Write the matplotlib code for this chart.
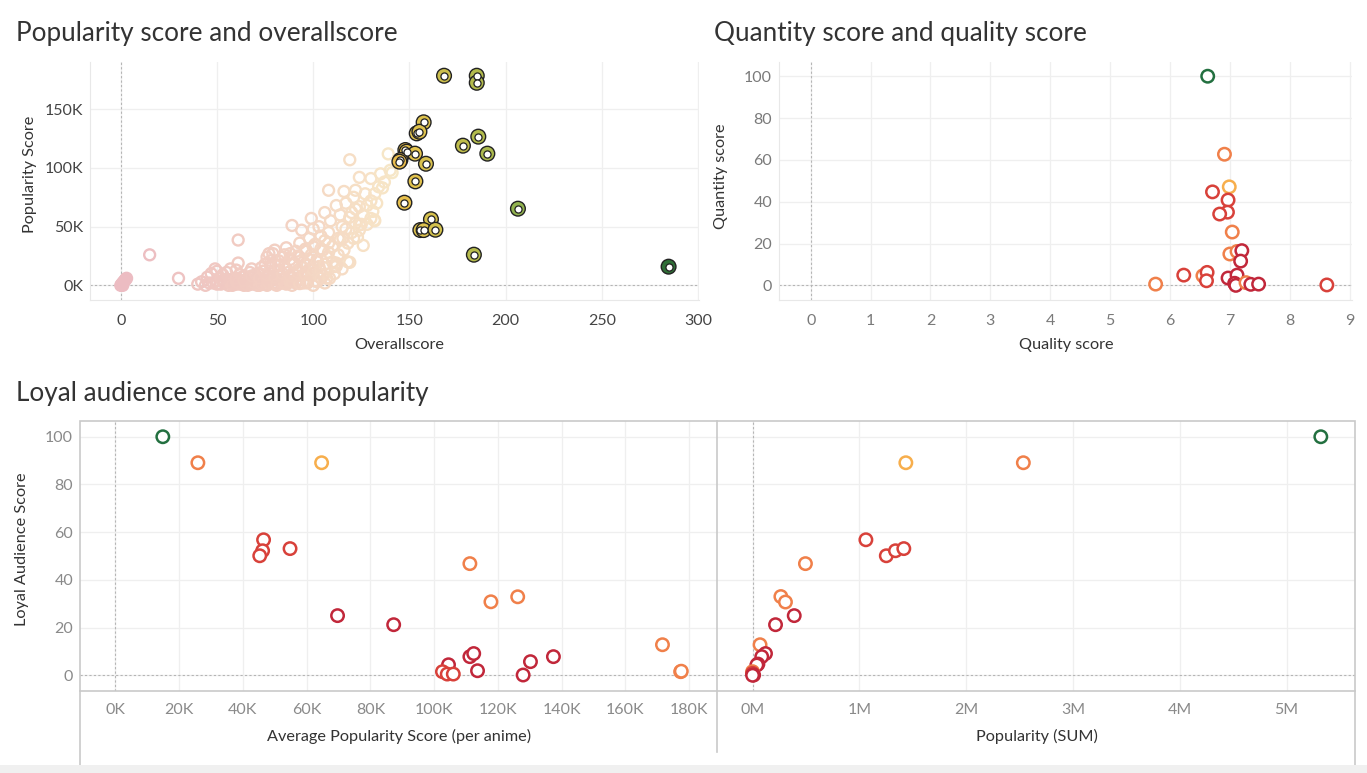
import matplotlib.pyplot as plt
from matplotlib.colors import LinearSegmentedColormap, to_rgb
from matplotlib.ticker import FuncFormatter
from matplotlib.patches import Rectangle
from matplotlib.lines import Line2D

plt.rcParams['font.family'] = ['Lato', 'DejaVu Sans']

# --- Popularity score vs overallscore (faded bulk) ---
overall_faded = [0, 0.5, 1, 1.5, 2, 2.5, 3, 0.5, 1, 15, 30, 40, 42, 45, 47, 44, 48, 50, 49, 57, 61, 61,
                 55, 52, 53, 56, 58, 59, 60, 62, 63, 64, 65, 66, 67, 68, 68, 70, 71, 72, 72, 73, 74, 75,
                 76, 77, 77, 78, 79, 80, 80, 81, 82, 82, 83, 84, 85, 85, 86, 87, 87, 88, 89, 89, 90, 91,
                 91, 92, 93, 93, 94, 94, 95, 96, 97, 98, 98, 99, 99, 100, 100, 101, 102, 102, 103, 103,
                 104, 105, 105, 106, 106, 107, 107, 108, 108, 109, 110, 111, 112, 112, 113, 114, 114, 115,
                 116, 117, 118, 119, 119, 120, 121, 122, 123, 124, 125, 126, 127, 128, 130, 130, 132, 132,
                 134, 136, 137, 139, 140, 141,
                 54, 56, 58, 60, 62, 64, 66, 68, 70, 72, 74, 76, 78, 79, 81, 83, 85, 86, 88, 89, 90, 92,
                 95, 96, 97, 99, 100, 101, 104, 106, 108, 110, 111, 113, 115, 116, 117, 118, 120, 121, 122,
                 124, 126, 128, 130, 131, 133, 135, 124, 122,
                 50, 53, 55, 60, 63, 67, 70, 73, 75, 76, 78, 79, 108.5, 112, 119, 124, 115.4, 131.8,
                 57, 61, 65, 69, 73, 77, 81, 85, 89, 93, 97, 101,
                 60, 64, 68, 72, 76, 80, 84, 88, 92, 96, 100, 104,
                 74, 78, 82, 86, 90, 94, 98, 102, 106,
                 84, 88, 92, 96, 100, 104, 108, 46, 50, 52]
popularity_faded = [0, 0.5, 2, 3, 4, 5, 6, 1, 0, 26, 6, 1, 3, 7, 10, 0, 2, 4, 14, 14, 38.6, 19,
                    5, 1, 3, 0, 2, 6, 1, 9, 3, 0, 5, 2, 7, 14, 1, 4, 0, 9, 2, 5, 12, 1,
                    7, 27, 3, 17, 10, 30, 1, 5, 21, 13, 8, 2, 26, 16, 32, 11, 4, 22, 51, 7, 18, 29,
                    2, 13, 36, 24, 47, 8, 20, 31, 4, 14, 40, 57, 26, 48, 10, 35, 22, 3, 50, 16,
                    42, 30, 8, 62, 38, 6, 24, 81, 45, 55, 33, 16, 19, 68, 40, 60, 39, 50,
                    80, 70, 20, 107, 58, 45, 75, 81, 41, 67, 52, 60, 78, 68, 91, 57, 78, 55,
                    84, 83, 88, 112, 98, 96,
                    2, 4, 0, 3, 1, 4, 0, 3, 1, 0, 3, 0, 5, 2, 0, 3, 6, 1, 3, 0, 9, 5,
                    2, 11, 17, 8, 0, 15, 12, 2, 28, 20, 10, 26, 14, 30, 48, 36, 62, 40, 53,
                    47, 34, 52, 72, 63, 70, 95, 92, 65,
                    12, 9, 11, 13, 7, 11, 9, 15, 18, 24, 21, 27, 6, 16.4, 19.6, 51.4, 40.1, 55.7,
                    1.5, 2, 1, 2.5, 1.5, 2, 1, 2, 3, 1.5, 2, 4,
                    6, 4, 8, 6, 9, 7, 10, 8, 11, 9, 13, 6,
                    12, 15, 17, 14, 19, 16, 22, 20, 18,
                    24, 27, 25, 29, 33, 31, 36, 2, 1, 6]

# --- highlighted anime (score >= ~145) ---
overall_hl = [168, 185, 185, 185.8, 177.8, 190.5, 206.4, 183.5, 284.7, 157.4, 153.8, 155.2, 147.9,
              148.6, 145.3, 144.8, 152.9, 158.6, 153.1, 147.4, 161.2, 155.7, 157.4, 163.5]
popularity_hl = [178.6, 178.6, 172.6, 126.7, 119, 112.2, 65.3, 26.1, 15.9, 138.9, 129.5, 130.9, 115.3,
                 113.9, 106.8, 105.4, 112.2, 103.6, 88.6, 70.4, 56.3, 47.1, 47.1, 47.4]

# --- Quantity vs quality score ---
quality = [6.63, 6.91, 6.99, 6.71, 6.97, 6.96, 6.83, 7.04, 7.0, 7.12, 7.2, 7.18, 6.23, 6.55, 6.62,
           6.61, 5.76, 6.97, 7.12, 7.08, 7.1, 7.27, 7.35, 7.48, 8.62]
quantity = [100, 62.7, 47.1, 44.7, 40.8, 35.0, 34.1, 25.5, 15, 16.2, 16.6, 11.6, 4.9, 4.6, 6.2,
            2.2, 0.6, 3.5, 4.9, 1.0, 0, 1.3, 0.5, 0.6, 0.2]
tier_q = [5, 3, 4, 2, 2, 2, 2, 3, 3, 3, 1, 1, 2, 3, 2, 2, 3, 1, 1, 1, 1, 3, 1, 1, 2]

# --- Loyal audience vs average popularity ---
avg_pop = [14.9, 25.9, 64.7, 46.5, 46.2, 45.3, 54.8, 69.7, 87.3, 111.2, 117.8, 126.2, 171.6, 177.3,
           177.5, 111.2, 112.4, 130.2, 137.4, 113.6, 127.9, 104.5, 102.6, 104.1, 106.0]
loyal_avg = [100, 89.1, 89.1, 56.8, 52.2, 50.1, 53.1, 25, 21.2, 46.8, 30.8, 32.9, 12.8, 1.5,
             1.7, 7.8, 9.1, 5.7, 7.8, 1.9, 0.1, 4.4, 1.5, 0.5, 0.5]
tier_avg = [5, 3, 4, 2, 2, 2, 2, 1, 1, 3, 3, 3, 3, 3, 3, 1, 1, 1, 1, 1, 1, 1, 2, 2, 2]

# --- Loyal audience vs popularity (SUM) ---
pop_sum = [5.32, 1.435, 2.535, 1.061, 1.252, 1.338, 1.416, 0.495, 0.265, 0.308, 0.39, 0.215, 0.07,
           0.121, 0.086, 0.05, 0.04, 0.0, 0.0, 0.01, 0.0]
loyal_sum = [100, 89.1, 89.1, 56.8, 50.1, 52.2, 53.1, 46.8, 33, 30.7, 25, 21.2, 12.8,
             9.1, 7.8, 4.7, 4.3, 1.5, 0.8, 0.1, 0]
tier_sum = [5, 4, 3, 2, 2, 2, 2, 3, 3, 3, 1, 1, 3, 1, 1, 1, 1, 3, 2, 1, 1]

tier_colors = {1: '#c1273a', 2: '#d8413a', 3: '#f0804a', 4: '#f7ae4c', 5: '#237040'}

W, H = 1367, 773
fig = plt.figure(figsize=(W / 100, H / 100), dpi=100)


def box(l, t, r, b):
    return [l / W, 1 - b / H, (r - l) / W, (b - t) / H]


def style(ax, xt, yt, label_color, xpad=8, ypad=5):
    ax.set_xticks(xt)
    ax.set_yticks(yt)
    ax.grid(True, color='#efefef', lw=0.9)
    ax.set_axisbelow(True)
    ax.axvline(0, color='#b5b5b5', lw=0.8, ls=(0, (2, 2)), zorder=1)
    ax.axhline(0, color='#b5b5b5', lw=0.8, ls=(0, (2, 2)), zorder=1)
    ax.tick_params(length=0, labelsize=11.5, labelcolor=label_color)
    ax.tick_params(axis='x', pad=xpad)
    ax.tick_params(axis='y', pad=ypad)
    for s in ax.spines.values():
        s.set_visible(False)


kfmt = FuncFormatter(lambda v, p: f'{v / 1000:.0f}K')
mfmt = FuncFormatter(lambda v, p: f'{v / 1e6:.0f}M')

# ---------- top-left ----------
cmap = LinearSegmentedColormap.from_list(
    'score', [(0, '#c8283c'), (0.3, '#e0703f'), (0.45, '#eea94a'), (0.52, '#e6c44e'),
              (0.64, '#b3bb4c'), (0.72, '#8fb24f'), (1.0, '#2a6b36')])
ax1 = fig.add_axes(box(90, 62, 699, 300))
style(ax1, range(0, 301, 50), range(0, 150001, 50000), '#444', xpad=10)
ax1.yaxis.set_major_formatter(kfmt)
ax1.set_xlim(-16, 300.5)
ax1.set_ylim(-12500, 190300)
ax1.spines['left'].set_visible(True)
ax1.spines['bottom'].set_visible(True)
ax1.spines['left'].set_color('#e8e8e8')
ax1.spines['bottom'].set_color('#e8e8e8')

faded = []
for v in overall_faded:
    c = to_rgb(cmap(v / 290))
    faded.append(tuple(0.3 * ci + 0.7 * 0.985 for ci in c))
ax1.scatter(overall_faded, [p * 1000 for p in popularity_faded], s=62, facecolors='none',
            edgecolors=faded, linewidths=1.7, zorder=3)
hl = [cmap(v / 290) for v in overall_hl]
ax1.scatter(overall_hl, [p * 1000 for p in popularity_hl], s=112, facecolors=hl,
            edgecolors='#222222', linewidths=1.0, zorder=4)
ax1.scatter(overall_hl, [p * 1000 for p in popularity_hl], s=26, facecolors='white',
            edgecolors='#222222', linewidths=0.9, zorder=5)

# ---------- top-right ----------
ax2 = fig.add_axes(box(779, 62, 1352, 300))
style(ax2, range(0, 10), range(0, 101, 20), '#7a7a7a', xpad=10)
ax2.set_xlim(-0.53, 9.04)
ax2.set_ylim(-7.0, 106.8)
ax2.spines['left'].set_visible(True)
ax2.spines['bottom'].set_visible(True)
ax2.spines['left'].set_color('#e8e8e8')
ax2.spines['bottom'].set_color('#e8e8e8')
ax2.scatter(quality, quantity, s=80, facecolors='white',
            edgecolors=[tier_colors[t] for t in tier_q], linewidths=1.8, zorder=3)

# ---------- bottom-left ----------
ax3 = fig.add_axes(box(80, 421, 717, 691))
style(ax3, range(0, 180001, 20000), range(0, 101, 20), '#8a8a8a', xpad=9)
ax3.xaxis.set_major_formatter(kfmt)
ax3.set_xlim(-11070, 188700)
ax3.set_ylim(-6.6, 106.6)
ax3.scatter([a * 1000 for a in avg_pop], loyal_avg, s=80, facecolors='white',
            edgecolors=[tier_colors[t] for t in tier_avg], linewidths=1.8, zorder=3)

# ---------- bottom-right ----------
ax4 = fig.add_axes(box(717, 421, 1355, 691))
style(ax4, range(0, 5000001, 1000000), range(0, 101, 20), '#8a8a8a', xpad=9)
ax4.xaxis.set_major_formatter(mfmt)
ax4.set_yticklabels([])
ax4.set_xlim(-333000, 5640000)
ax4.set_ylim(-6.6, 106.6)
ax4.scatter([p * 1e6 for p in pop_sum], loyal_sum, s=80, facecolors='white',
            edgecolors=[tier_colors[t] for t in tier_sum], linewidths=1.8, zorder=3)

# frame around bottom pane
frame_c = '#c9c9c9'
fig.add_artist(Rectangle((80 / W, 1 - 773 / H), (1355 - 80) / W, (773 - 421) / H,
                         transform=fig.transFigure, fill=False, edgecolor=frame_c, lw=1.2))
fig.add_artist(Line2D([80 / W, 1355 / W], [1 - 691 / H] * 2, color=frame_c, lw=1.2))
fig.add_artist(Line2D([717 / W] * 2, [1 - 421 / H, 1 - 752 / H], color=frame_c, lw=1.2))
fig.add_artist(Rectangle((0, 0), 1, 8 / H, transform=fig.transFigure,
                         facecolor='#f0f0f0', edgecolor='none', zorder=10))

# titles and axis labels
tcol = '#333333'
fig.text(16 / W, 1 - 33 / H, 'Popularity score and overallscore', fontsize=18.8, color=tcol, va='center')
fig.text(714 / W, 1 - 33 / H, 'Quantity score and quality score', fontsize=18.8, color=tcol, va='center')
fig.text(16 / W, 1 - 393 / H, 'Loyal audience score and popularity', fontsize=18.8, color=tcol,
         va='center')

lab = dict(fontsize=11.7, color=tcol, ha='center', va='center')
fig.text(399 / W, 1 - 345 / H, 'Overallscore', **lab)
fig.text(30 / W, 1 - 174 / H, 'Popularity Score', rotation=90, **lab)
fig.text(1066 / W, 1 - 345 / H, 'Quality score', **lab)
fig.text(721 / W, 1 - 176 / H, 'Quantity score', rotation=90, **lab)
fig.text(22 / W, 1 - 549 / H, 'Loyal Audience Score', rotation=90, **lab)
fig.text(399 / W, 1 - 736 / H, 'Average Popularity Score (per anime)', **lab)
fig.text(1037 / W, 1 - 736 / H, 'Popularity (SUM)', **lab)

fig.savefig('out.png', dpi=100)
